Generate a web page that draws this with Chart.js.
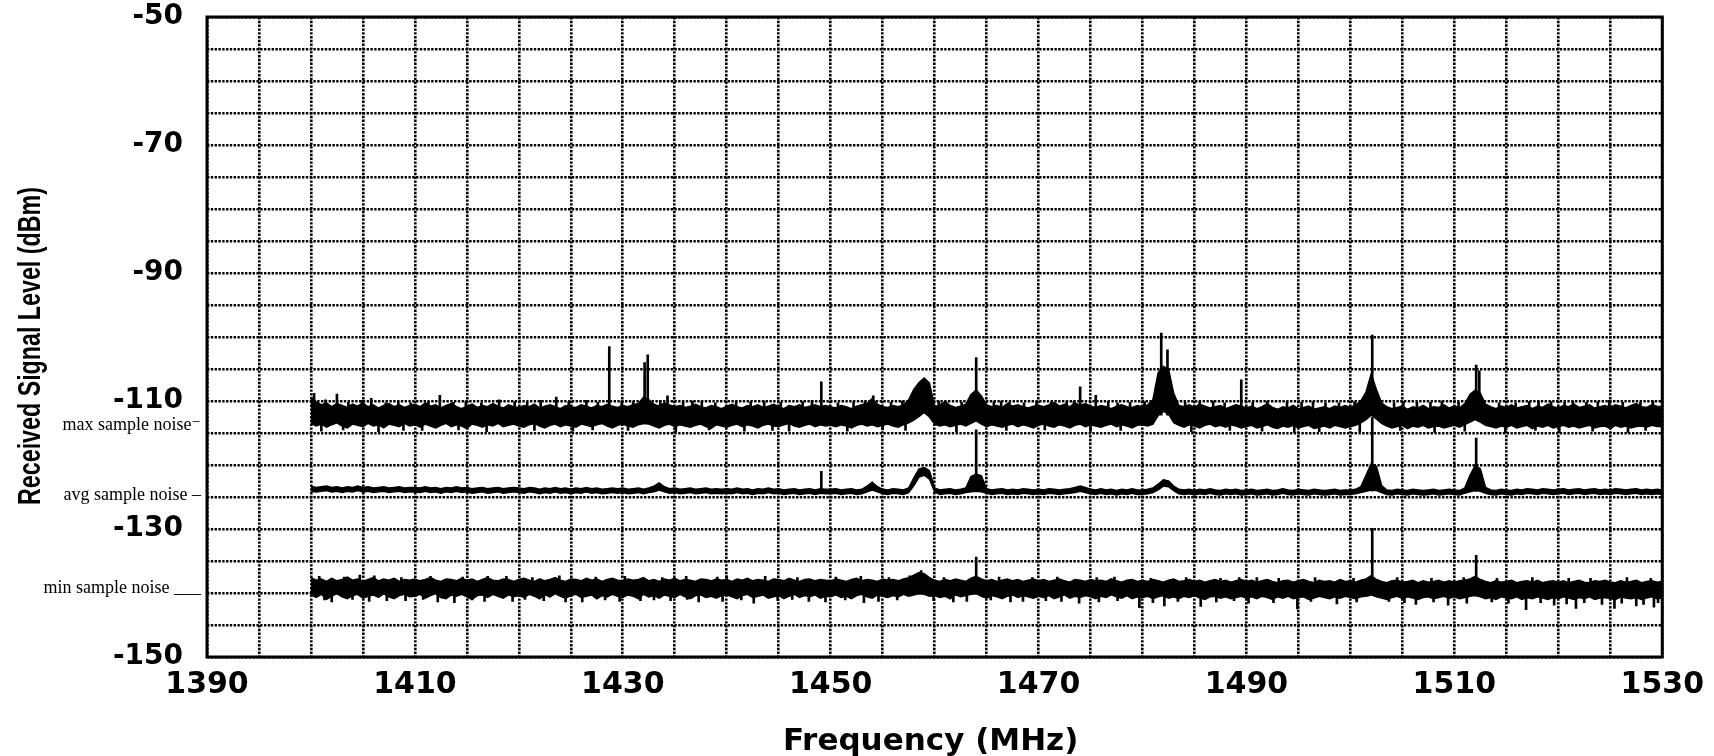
<!DOCTYPE html>
<html>
<head>
<meta charset="utf-8">
<script src="https://cdn.jsdelivr.net/npm/chart.js@4.4.1/dist/chart.umd.min.js"></script>
<style>
  html, body { margin: 0; padding: 0; background: #fff; }
  canvas { display: block; }
</style>
</head>
<body>
<canvas id="noiseChart" width="1714" height="756"></canvas>
<script>
// ====== DATA ======
// tick labels shown on the axes
const xTickLabels = [1390, 1410, 1430, 1450, 1470, 1490, 1510, 1530];
const yTickLabels = [-50, -70, -90, -110, -130, -150];
const xTitle = 'Frequency (MHz)';
const yTitle = 'Received Signal Level (dBm)';

// trace labels in the left margin and the level (dBm) they point at
const noteLabels = ['max sample noise\u207B', 'avg sample noise \u2013', 'min sample noise ___'];
const noteLevels = [-113.75, -124.7, -139.2];

// sweep: 1400 .. 1530 MHz, read every 0.5 MHz
const SWEEP_START = 1400, SWEEP_END = 1530, SWEEP_STEP = 0.5;
const freqGrid = [];
for (let f = SWEEP_START; f <= SWEEP_END + 1e-9; f += SWEEP_STEP) freqGrid.push(f);

// max sample noise: upper / lower edge of the trace band (dBm)
const maxHi = [
  -109.4,-110.1,-110.6,-110.3,-110.9,-110.4,-110.7,-111.0,-110.5,-110.8,-110.3,-110.9,-110.6,-111.1,-110.7,-110.4,-110.9,-110.6,-111.0,-110.7,
  -110.5,-110.9,-110.3,-110.8,-110.6,-111.1,-110.7,-110.4,-110.9,-111.2,-110.8,-110.5,-111.0,-110.7,-110.9,-110.4,-110.8,-111.1,-110.6,-110.9,
  -111.0,-110.7,-110.9,-110.5,-111.1,-110.8,-110.6,-110.9,-111.2,-110.7,-110.9,-111.0,-110.6,-110.8,-111.1,-110.7,-110.9,-110.5,-110.8,-111.0,
  -110.7,-110.9,-110.6,-110.4,-109.4,-109.8,-110.5,-110.8,-110.3,-110.6,-110.9,-110.7,-111.0,-110.8,-110.5,-110.9,-111.1,-110.7,-110.9,-111.2,
  -110.8,-110.5,-110.9,-111.1,-110.7,-110.9,-110.6,-111.0,-110.8,-110.5,-110.9,-111.2,-110.7,-110.9,-110.6,-111.0,-110.8,-110.6,-110.9,-110.7,
  -110.9,-111.1,-110.7,-110.9,-111.2,-110.8,-110.6,-110.4,-109.6,-110.5,-110.9,-111.0,-110.7,-110.9,-110.6,-109.8,-108.2,-107.1,-106.4,-107.2,
  -110.9,-110.6,-110.1,-110.7,-111.0,-110.8,-110.5,-109.0,-108.3,-109.2,-110.6,-110.9,-110.7,-111.0,-110.4,-110.8,-110.6,-110.9,-111.1,-110.8,
  -110.7,-110.9,-110.6,-110.2,-110.8,-110.5,-110.9,-110.3,-110.7,-110.4,-110.8,-111.0,-110.7,-110.9,-111.2,-110.8,-110.6,-110.9,-111.0,-110.7,
  -110.9,-110.6,-109.8,-105.6,-104.6,-105.0,-108.8,-110.7,-110.9,-110.6,-111.0,-110.5,-110.8,-111.1,-110.9,-110.7,-111.2,-110.9,-110.6,-110.8,
  -111.1,-110.8,-111.2,-110.9,-110.4,-111.0,-111.3,-110.9,-111.1,-110.7,-111.2,-111.0,-110.8,-111.3,-111.1,-110.9,-111.2,-110.8,-111.0,-110.7,
  -111.0,-110.6,-110.0,-108.6,-105.8,-108.2,-110.3,-110.9,-111.2,-111.0,-110.8,-111.3,-110.9,-111.1,-110.7,-111.2,-110.9,-111.0,-110.6,-111.1,
  -110.8,-111.1,-110.4,-109.0,-108.3,-108.8,-110.5,-110.9,-111.2,-110.8,-111.0,-110.6,-111.1,-110.9,-110.7,-111.2,-110.8,-111.0,-110.5,-110.9,
  -111.1,-110.7,-110.9,-110.5,-111.0,-110.8,-110.6,-111.1,-110.9,-110.7,-111.0,-110.6,-110.8,-111.1,-110.7,-110.4,-110.9,-111.0,-110.6,-110.8,
  -110.9
];
const maxLo = [
  -113.5,-113.9,-113.6,-114.1,-113.7,-113.4,-113.9,-114.2,-113.6,-113.8,-114.0,-113.5,-113.9,-113.7,-114.2,-113.6,-113.8,-114.0,-113.5,-113.9,
  -113.7,-114.1,-113.6,-113.9,-114.2,-113.8,-113.5,-114.0,-113.7,-113.9,-114.3,-113.6,-113.8,-114.1,-113.7,-113.9,-113.5,-114.0,-113.8,-113.6,
  -113.9,-114.1,-113.7,-113.5,-113.9,-114.2,-113.8,-113.6,-114.0,-113.7,-113.9,-114.1,-113.6,-113.8,-114.0,-113.7,-113.5,-113.9,-114.2,-113.8,
  -113.6,-113.9,-114.1,-113.7,-113.5,-113.6,-113.9,-114.2,-113.8,-113.6,-114.0,-113.7,-113.9,-114.1,-113.8,-113.6,-114.0,-114.3,-113.7,-113.9,
  -114.1,-113.8,-113.6,-114.0,-113.7,-113.9,-114.2,-113.8,-113.6,-113.9,-114.0,-113.7,-113.5,-113.9,-114.1,-113.8,-113.6,-114.0,-113.7,-113.9,
  -113.8,-114.0,-113.7,-113.9,-114.2,-113.8,-113.6,-113.9,-113.7,-114.0,-113.8,-113.6,-113.9,-114.1,-113.7,-113.4,-113.0,-112.4,-111.8,-112.5,
  -113.6,-113.9,-113.7,-114.0,-113.8,-113.6,-113.9,-113.5,-113.1,-113.6,-114.0,-113.7,-113.9,-114.1,-113.8,-113.6,-114.0,-113.7,-113.9,-114.2,
  -113.8,-113.6,-113.9,-114.1,-113.7,-113.9,-114.2,-113.8,-113.6,-114.0,-113.7,-113.9,-114.1,-113.8,-113.6,-114.0,-113.7,-113.9,-114.2,-113.8,
  -113.7,-113.9,-113.6,-112.3,-111.6,-112.0,-113.4,-113.8,-114.1,-113.7,-113.9,-114.2,-113.8,-113.6,-114.0,-113.8,-114.1,-113.7,-113.9,-114.2,
  -114.0,-113.8,-114.2,-114.0,-113.7,-114.1,-114.3,-113.9,-114.1,-113.8,-114.2,-114.0,-113.8,-114.3,-114.1,-113.9,-114.2,-113.8,-114.0,-114.2,
  -114.0,-113.8,-113.4,-112.9,-112.2,-112.8,-113.5,-113.9,-114.2,-114.0,-113.8,-114.3,-113.9,-114.1,-113.8,-114.2,-114.0,-113.9,-114.2,-114.0,
  -113.8,-114.1,-113.7,-113.3,-112.9,-113.3,-113.8,-114.0,-114.2,-113.9,-114.1,-113.8,-114.2,-114.0,-113.8,-114.3,-113.9,-114.1,-113.8,-114.2,
  -114.0,-113.8,-114.1,-113.9,-114.2,-114.0,-113.8,-114.2,-114.0,-113.9,-114.3,-113.8,-114.1,-113.9,-114.2,-114.0,-113.9,-114.1,-113.8,-114.0,
  -114.0
];

// avg sample noise: upper / lower edge (dBm)
const avgHi = [
  -123.3,-123.5,-123.4,-123.3,-123.5,-123.4,-123.6,-123.4,-123.5,-123.3,-123.5,-123.4,-123.6,-123.5,-123.4,-123.6,-123.5,-123.4,-123.6,-123.5,
  -123.5,-123.6,-123.4,-123.6,-123.5,-123.7,-123.5,-123.6,-123.4,-123.6,-123.5,-123.7,-123.6,-123.5,-123.7,-123.6,-123.5,-123.7,-123.6,-123.5,
  -123.6,-123.7,-123.5,-123.6,-123.8,-123.6,-123.7,-123.5,-123.7,-123.6,-123.8,-123.6,-123.7,-123.5,-123.7,-123.6,-123.8,-123.7,-123.6,-123.7,
  -123.6,-123.8,-123.7,-123.6,-123.8,-123.6,-123.3,-122.8,-123.4,-123.7,-123.6,-123.8,-123.7,-123.6,-123.8,-123.7,-123.6,-123.8,-123.7,-123.8,
  -123.7,-123.8,-123.6,-123.8,-123.7,-123.9,-123.7,-123.8,-123.6,-123.8,-123.7,-123.9,-123.8,-123.7,-123.9,-123.8,-123.7,-123.9,-123.7,-123.8,
  -123.8,-123.7,-123.9,-123.8,-123.7,-123.9,-123.8,-123.3,-122.7,-123.4,-123.8,-123.9,-123.7,-123.8,-123.9,-123.6,-122.0,-120.6,-120.4,-120.9,
  -123.6,-123.9,-123.8,-123.7,-123.9,-123.8,-123.6,-121.8,-121.4,-121.7,-123.7,-123.9,-123.8,-123.7,-123.9,-123.8,-123.9,-123.7,-123.8,-123.9,
  -123.8,-123.9,-123.7,-123.8,-123.9,-123.8,-123.7,-123.5,-123.3,-123.5,-123.8,-123.9,-123.7,-123.9,-123.8,-124.0,-123.8,-123.9,-123.7,-123.9,
  -123.9,-123.8,-123.6,-123.0,-122.3,-122.5,-123.3,-123.8,-123.9,-123.8,-124.0,-123.8,-123.9,-123.7,-123.9,-124.0,-123.8,-123.9,-123.8,-124.0,
  -123.9,-123.8,-124.0,-123.9,-123.8,-124.0,-123.9,-123.7,-123.9,-124.0,-123.8,-123.9,-124.0,-123.8,-123.9,-124.0,-123.9,-123.8,-124.0,-123.9,
  -123.9,-123.8,-123.4,-121.6,-119.8,-120.2,-123.2,-123.9,-124.0,-123.8,-123.9,-124.0,-123.8,-123.9,-124.0,-123.9,-123.8,-124.0,-123.9,-123.8,
  -123.9,-124.0,-123.6,-121.6,-120.1,-120.6,-123.5,-123.9,-124.0,-123.8,-123.9,-124.0,-123.8,-123.9,-123.7,-123.8,-123.9,-123.7,-123.8,-123.9,
  -123.8,-123.7,-123.9,-123.8,-123.7,-123.9,-123.8,-123.7,-123.9,-123.8,-123.9,-123.7,-123.8,-123.9,-123.8,-123.7,-123.9,-123.8,-123.9,-123.8,
  -123.9
];
const avgLo = [
  -124.1,-124.2,-124.1,-124.0,-124.2,-124.1,-124.3,-124.1,-124.2,-124.0,-124.2,-124.1,-124.3,-124.2,-124.1,-124.3,-124.2,-124.1,-124.3,-124.2,
  -124.2,-124.3,-124.1,-124.3,-124.2,-124.4,-124.2,-124.3,-124.1,-124.3,-124.2,-124.4,-124.3,-124.2,-124.4,-124.3,-124.2,-124.4,-124.3,-124.2,
  -124.3,-124.4,-124.2,-124.3,-124.5,-124.3,-124.4,-124.2,-124.4,-124.3,-124.5,-124.3,-124.4,-124.2,-124.4,-124.3,-124.5,-124.4,-124.3,-124.4,
  -124.3,-124.5,-124.4,-124.3,-124.5,-124.3,-124.2,-123.9,-124.2,-124.4,-124.3,-124.5,-124.4,-124.3,-124.5,-124.4,-124.3,-124.5,-124.4,-124.5,
  -124.4,-124.5,-124.3,-124.5,-124.4,-124.6,-124.4,-124.5,-124.3,-124.5,-124.4,-124.6,-124.5,-124.4,-124.6,-124.5,-124.4,-124.6,-124.4,-124.5,
  -124.5,-124.4,-124.6,-124.5,-124.4,-124.6,-124.5,-124.2,-123.9,-124.2,-124.5,-124.6,-124.4,-124.5,-124.6,-124.3,-123.2,-121.9,-121.6,-122.2,
  -124.2,-124.6,-124.5,-124.4,-124.6,-124.5,-124.3,-124.2,-124.1,-124.2,-124.4,-124.6,-124.5,-124.4,-124.6,-124.5,-124.6,-124.4,-124.5,-124.6,
  -124.5,-124.6,-124.4,-124.5,-124.6,-124.5,-124.4,-124.3,-124.1,-124.3,-124.5,-124.6,-124.4,-124.6,-124.5,-124.7,-124.5,-124.6,-124.4,-124.6,
  -124.6,-124.5,-124.3,-123.9,-123.3,-123.4,-124.0,-124.5,-124.6,-124.5,-124.7,-124.5,-124.6,-124.4,-124.6,-124.7,-124.5,-124.6,-124.5,-124.7,
  -124.6,-124.5,-124.7,-124.6,-124.5,-124.7,-124.6,-124.4,-124.6,-124.7,-124.5,-124.6,-124.7,-124.5,-124.6,-124.7,-124.6,-124.5,-124.7,-124.6,
  -124.6,-124.5,-124.3,-124.1,-123.9,-124.0,-124.3,-124.6,-124.7,-124.5,-124.6,-124.7,-124.5,-124.6,-124.7,-124.6,-124.5,-124.7,-124.6,-124.5,
  -124.6,-124.7,-124.4,-124.2,-124.0,-124.1,-124.4,-124.6,-124.7,-124.5,-124.6,-124.7,-124.5,-124.6,-124.4,-124.5,-124.6,-124.4,-124.5,-124.6,
  -124.5,-124.4,-124.6,-124.5,-124.4,-124.6,-124.5,-124.4,-124.6,-124.5,-124.6,-124.4,-124.5,-124.6,-124.5,-124.4,-124.6,-124.5,-124.6,-124.5,
  -124.6
];

// min sample noise: upper / lower edge (dBm)
const minHi = [
  -137.6,-138.0,-137.8,-138.2,-137.7,-138.1,-137.9,-137.5,-138.0,-137.8,-138.2,-137.9,-137.6,-138.1,-137.8,-138.0,-137.7,-138.2,-137.9,-138.0,
  -137.8,-138.1,-137.9,-137.6,-138.0,-138.2,-137.8,-137.9,-138.1,-137.7,-138.0,-137.8,-138.2,-137.9,-137.6,-138.0,-138.1,-137.8,-137.9,-138.2,
  -137.9,-137.7,-138.0,-138.2,-137.8,-138.1,-137.9,-137.6,-138.0,-138.2,-137.8,-137.9,-138.1,-137.7,-138.0,-137.8,-138.2,-137.9,-137.7,-138.0,
  -138.1,-137.8,-138.0,-137.9,-137.6,-138.1,-137.9,-138.2,-137.8,-138.0,-137.7,-138.1,-137.9,-138.0,-138.2,-137.8,-137.9,-138.1,-137.8,-138.0,
  -137.9,-138.2,-137.8,-138.0,-137.7,-138.1,-137.9,-138.0,-138.2,-137.8,-137.9,-138.1,-137.7,-138.0,-138.2,-137.9,-137.8,-138.1,-137.9,-138.0,
  -138.1,-137.8,-138.0,-138.2,-137.9,-137.7,-138.1,-137.9,-138.0,-138.2,-137.8,-138.0,-137.9,-138.1,-137.8,-137.6,-137.2,-136.8,-137.0,-137.6,
  -138.0,-138.2,-137.9,-138.1,-137.8,-138.0,-138.2,-137.7,-137.4,-137.8,-138.1,-137.9,-138.2,-138.0,-137.8,-138.1,-137.9,-138.2,-138.0,-137.8,
  -138.1,-137.9,-138.2,-138.0,-137.8,-138.1,-138.3,-137.9,-138.0,-138.2,-137.9,-138.1,-138.0,-138.2,-137.8,-138.1,-138.3,-138.0,-137.9,-138.2,
  -138.0,-138.2,-137.9,-138.1,-138.3,-138.0,-137.8,-138.2,-138.1,-137.9,-138.2,-138.0,-138.3,-138.1,-137.9,-138.2,-138.0,-138.3,-138.1,-137.9,
  -138.2,-138.0,-138.3,-138.1,-137.9,-138.2,-138.4,-138.1,-138.0,-138.3,-138.1,-137.9,-138.2,-138.4,-138.0,-138.2,-138.1,-138.3,-137.9,-138.2,
  -138.1,-138.3,-138.0,-137.8,-137.3,-137.9,-138.2,-138.4,-138.1,-138.0,-138.3,-138.2,-138.0,-138.4,-138.1,-138.3,-138.2,-138.0,-138.3,-138.1,
  -138.3,-138.1,-138.0,-137.8,-137.4,-137.9,-138.2,-138.4,-138.1,-138.3,-138.2,-138.0,-138.4,-138.2,-138.1,-138.3,-138.0,-138.4,-138.2,-138.1,
  -138.3,-138.1,-138.4,-138.2,-138.0,-138.3,-138.4,-138.1,-138.2,-138.0,-138.3,-138.4,-138.1,-138.3,-138.2,-138.0,-138.4,-138.2,-138.1,-138.3,
  -138.2
];
const minLo = [
  -140.3,-140.7,-140.2,-141.0,-140.5,-140.1,-140.6,-140.9,-140.4,-140.2,-140.8,-140.5,-140.3,-140.7,-140.1,-140.6,-140.9,-140.4,-140.2,-140.6,
  -140.5,-140.2,-140.8,-140.4,-140.1,-140.7,-140.9,-140.3,-140.5,-140.2,-140.6,-141.0,-140.4,-140.3,-140.7,-140.2,-140.5,-140.8,-140.3,-140.6,
  -140.4,-140.7,-140.2,-140.5,-140.9,-140.3,-140.6,-140.1,-140.5,-140.8,-140.4,-140.2,-140.7,-140.5,-140.3,-140.9,-140.4,-140.6,-140.2,-140.5,
  -140.7,-140.3,-140.5,-140.9,-140.2,-140.6,-140.4,-140.8,-140.3,-140.5,-140.7,-140.2,-140.6,-140.9,-140.4,-140.3,-140.7,-140.5,-140.8,-140.4,
  -140.3,-140.6,-140.9,-140.4,-140.2,-140.7,-140.5,-140.3,-140.8,-140.6,-140.4,-140.9,-140.5,-140.2,-140.7,-140.4,-140.6,-140.3,-140.8,-140.5,
  -140.6,-140.3,-140.7,-140.5,-140.9,-140.4,-140.2,-140.6,-140.8,-140.3,-140.5,-140.7,-140.4,-140.6,-140.2,-140.5,-140.3,-140.1,-140.2,-140.5,
  -140.4,-140.7,-140.5,-140.9,-140.3,-140.6,-140.4,-140.2,-140.1,-140.5,-140.8,-140.4,-140.6,-140.9,-140.5,-140.3,-140.7,-140.4,-140.6,-140.8,
  -140.5,-140.7,-140.4,-140.9,-140.6,-140.3,-140.8,-140.5,-140.7,-140.4,-140.6,-140.9,-140.5,-140.7,-140.3,-140.6,-140.8,-140.4,-140.9,-140.6,
  -140.7,-140.5,-140.9,-140.6,-140.4,-140.8,-140.6,-140.9,-140.5,-140.7,-140.4,-140.8,-141.0,-140.6,-140.5,-140.8,-140.6,-140.9,-140.7,-140.5,
  -140.8,-140.6,-140.9,-140.5,-140.7,-141.0,-140.6,-140.8,-140.5,-140.9,-140.7,-140.6,-141.0,-140.8,-140.5,-140.7,-140.9,-140.6,-140.8,-140.5,
  -140.7,-140.9,-140.6,-140.5,-140.3,-140.6,-140.8,-141.0,-140.7,-140.5,-140.9,-140.6,-140.8,-141.0,-140.7,-140.6,-140.9,-140.7,-140.5,-140.8,
  -140.6,-140.9,-140.7,-140.5,-140.4,-140.6,-140.9,-140.7,-141.0,-140.6,-140.8,-140.9,-140.6,-141.0,-140.7,-140.9,-140.6,-140.8,-141.0,-140.7,
  -140.9,-140.6,-140.8,-141.0,-140.7,-140.9,-140.6,-141.0,-140.8,-140.7,-140.9,-141.0,-140.6,-140.8,-140.9,-140.7,-141.0,-140.8,-140.6,-140.9,
  -140.8
];

// narrow signal spikes: frequency (MHz) and the level they reach (dBm)
const maxSpikeFreq  = [1400.3,1402.5,1405.8,1412.4,1418.1,1423.6,1426.5,1428.7,1432.1,1432.4,1434.3,1437.6,1440.9,1449.1,1454.1,1461.1,1464.0,1467.2,1472.7,1474.0,1475.5,1478.8,1481.8,1482.4,1485.5,1489.5,1493.9,1497.6,1502.1,1506.4,1512.1,1512.4,1515.9,1519.3,1522.7,1527.9];
const maxSpikeLevel = [-108.8,-108.9,-109.6,-109.1,-109.8,-109.4,-109.9,-101.5,-104.0,-102.8,-109.2,-110.0,-110.0,-107.0,-109.2,-110.1,-103.2,-110.2,-110.1,-107.8,-109.1,-110.2,-99.4,-102.0,-110.1,-106.7,-110.1,-110.3,-99.7,-110.2,-104.4,-105.3,-110.3,-110.1,-110.2,-110.2];

const avgSpikeFreq  = [1449.1, 1464.0, 1502.1, 1512.1];
const avgSpikeLevel = [-121.0, -114.5, -112.6, -115.8];

const minSpikeFreq  = [1404.7, 1458.7, 1464.0, 1479.7, 1482.1, 1494.9, 1502.1, 1512.1, 1516.9, 1521.7, 1525.4];
const minSpikeLevel = [-137.2, -136.5, -134.4, -142.3, -142.0, -142.5, -129.9, -134.1, -142.6, -142.4, -142.4];

// fine noise hairs on the band edges: frequency (MHz) and level (dBm)
const maxHairFreq = [
  1401.0,1401.4,1403.1,1403.6,1404.9,1406.5,1407.2,1408.4,1408.9,1409.6,1410.7,1411.3,1413.7,1414.2,1414.9,1416.4,1416.9,1419.6,1420.8,1421.5,
  1422.1,1424.8,1425.2,1427.1,1427.6,1429.9,1430.5,1431.0,1433.6,1435.1,1435.8,1436.7,1438.3,1438.9,1441.7,1442.3,1443.6,1444.4,1445.2,1446.0,
  1447.3,1448.2,1450.7,1451.6,1452.2,1453.3,1455.0,1455.8,1456.9,1457.2,1460.4,1462.1,1462.6,1465.7,1466.4,1466.9,1468.6,1469.8,1470.6,1471.2,
  1473.4,1475.0,1476.7,1477.6,1477.9,1480.2,1484.1,1484.7,1486.8,1487.9,1488.4,1490.6,1491.5,1492.0,1494.6,1495.3,1496.4,1497.0,1498.9,1500.4,
  1500.9,1504.2,1504.8,1505.1,1507.7,1508.1,1508.8,1510.4,1511.0,1514.3,1514.9,1517.2,1517.8,1518.1,1520.1,1520.6,1521.4,1523.3,1523.8,1524.9,
  1526.2,1526.7,1528.4,1529.1
];
const maxHairLevel = [
  -114.7,-109.8,-114.5,-110.2,-109.9,-114.8,-110.3,-110.0,-114.6,-110.3,-114.6,-110.1,-110.2,-114.5,-110.0,-110.3,-114.8,-110.1,-110.2,-114.6,
  -109.9,-110.1,-114.7,-114.5,-110.2,-110.0,-114.6,-110.1,-109.9,-114.8,-110.2,-110.0,-114.5,-110.3,-114.7,-110.1,-110.0,-114.6,-110.2,-114.7,
  -110.1,-109.9,-110.3,-114.7,-110.1,-110.0,-114.5,-110.2,-110.0,-114.6,-110.0,-114.8,-110.2,-110.1,-110.0,-114.6,-110.3,-110.1,-114.5,-110.2,
  -110.0,-114.7,-110.1,-110.3,-114.6,-110.1,-110.2,-114.8,-110.0,-110.3,-114.6,-110.2,-114.7,-110.0,-114.9,-110.2,-110.1,-114.8,-110.3,-110.1,
  -114.8,-110.3,-114.6,-110.1,-110.2,-114.9,-110.0,-110.2,-114.7,-110.3,-114.8,-110.1,-114.6,-110.0,-114.9,-110.2,-110.0,-114.7,-110.1,-109.9,
  -110.2,-114.9,-114.6,-110.0
];

const minHairFreq = [
  1400.8,1401.3,1402.0,1403.2,1404.0,1405.6,1406.1,1407.3,1408.7,1409.1,1410.8,1411.5,1412.2,1413.8,1414.6,1415.5,1416.7,1417.0,1418.8,1419.4,
  1420.6,1421.3,1422.4,1423.9,1424.5,1426.1,1427.4,1428.3,1429.7,1430.2,1431.7,1433.0,1433.8,1434.6,1436.1,1436.2,1437.3,1439.1,1439.6,1440.0,
  1441.4,1442.6,1443.7,1444.9,1446.3,1446.8,1447.9,1449.5,1450.5,1451.4,1452.9,1453.2,1454.6,1455.6,1456.4,1457.6,1459.9,1460.9,1461.8,1463.1,
  1465.4,1466.2,1467.3,1468.5,1469.4,1470.7,1471.8,1472.2,1473.9,1475.6,1475.8,1477.3,1477.6,1480.8,1481.0,1483.4,1484.2,1485.6,1487.1,1487.5,
  1488.8,1489.3,1490.2,1491.0,1492.6,1493.1,1496.2,1496.6,1498.7,1500.3,1500.6,1503.7,1504.5,1505.2,1506.3,1507.8,1508.0,1509.4,1510.9,1511.2,
  1513.6,1514.1,1515.2,1517.5,1518.3,1519.6,1520.8,1521.0,1522.5,1523.1,1524.2,1526.1,1526.6,1527.5,1528.2,1528.9,1529.2,1529.6
];
const minHairLevel = [
  -137.4,-141.1,-141.4,-137.5,-141.0,-141.3,-137.3,-141.2,-137.6,-141.2,-141.0,-137.4,-141.4,-141.5,-137.5,-141.1,-141.3,-137.4,-137.4,-141.3,
  -141.0,-137.6,-141.2,-137.3,-141.4,-141.4,-137.5,-141.1,-141.3,-137.4,-141.2,-141.1,-137.6,-141.2,-137.4,-141.0,-141.4,-137.5,-141.3,-137.3,
  -141.1,-141.6,-137.4,-141.2,-141.0,-137.6,-141.3,-141.4,-137.5,-141.1,-137.4,-141.5,-141.3,-137.6,-141.1,-137.3,-141.2,-137.6,-141.4,-141.3,
  -141.1,-137.5,-141.4,-141.3,-137.6,-141.2,-137.5,-141.3,-141.6,-137.6,-141.4,-137.5,-141.2,-137.7,-141.5,-141.3,-137.6,-142.1,-141.4,-137.7,
  -141.2,-137.6,-141.6,-137.6,-141.5,-137.7,-141.3,-137.6,-141.7,-137.7,-141.4,-141.3,-137.6,-141.5,-141.8,-137.7,-141.4,-141.9,-137.6,-141.6,
  -141.4,-137.7,-141.6,-137.6,-141.5,-141.9,-141.7,-137.7,-141.5,-137.7,-141.8,-141.6,-137.6,-142.0,-141.8,-137.7,-142.2,-141.5
];

// ====== HELPERS ======
const INK = '#000';

function band(values) {
  return values.map((v, i) => ({ x: freqGrid[i], y: v }));
}

function spikes(freqs, levels, base) {
  return freqs.map((f, i) => ({ x: f, y: [base, levels[i]] }));
}

function edge(values, fillNext) {
  return {
    type: 'line',
    data: band(values),
    borderColor: INK,
    borderWidth: 1.5,
    backgroundColor: INK,
    pointRadius: 0,
    tension: 0,
    fill: fillNext ? '+1' : false
  };
}

function spikeSet(freqs, levels, base, thickness) {
  return {
    type: 'bar',
    data: spikes(freqs, levels, base),
    backgroundColor: INK,
    borderWidth: 0,
    barThickness: thickness,
    grouped: false
  };
}

// frame round the plot, axis titles and the trace labels in the left margin
const framePlugin = {
  id: 'frame',
  afterDraw(chart) {
    const { ctx, chartArea: a, scales } = chart;
    ctx.save();
    ctx.strokeStyle = INK;
    ctx.lineWidth = 3;
    ctx.strokeRect(a.left, a.top, a.right - a.left, a.bottom - a.top);

    ctx.fillStyle = INK;
    ctx.textBaseline = 'middle';

    // trace labels
    ctx.font = '18px "Liberation Serif", "DejaVu Serif", serif';
    ctx.textAlign = 'right';
    noteLabels.forEach((txt, i) => {
      ctx.fillText(txt, a.left - 6, scales.y.getPixelForValue(noteLevels[i]));
    });

    // x title
    ctx.textAlign = 'center';
    ctx.font = 'bold 31px "DejaVu Sans", sans-serif';
    ctx.fillText(xTitle, (a.left + a.right) / 2 - 4, 742);

    // y title (narrow, rotated)
    ctx.translate(31, (a.top + a.bottom) / 2 + 9);
    ctx.rotate(-Math.PI / 2);
    ctx.scale(0.75, 1);
    ctx.font = 'bold 31px "Liberation Sans", Arial, sans-serif';
    ctx.fillText(yTitle, 0, 0);
    ctx.restore();
  }
};

// ====== CHART ======
const ctx = document.getElementById('noiseChart').getContext('2d');

new Chart(ctx, {
  type: 'line',
  data: {
    datasets: [
      edge(maxHi, true), edge(maxLo, false),
      edge(avgHi, true), edge(avgLo, false),
      edge(minHi, true), edge(minLo, false),
      spikeSet(maxSpikeFreq, maxSpikeLevel, -112.2, 2),
      spikeSet(avgSpikeFreq, avgSpikeLevel, -124.1, 2),
      spikeSet(minSpikeFreq, minSpikeLevel, -139.2, 2),
      spikeSet(maxHairFreq, maxHairLevel, -112.2, 2),
      spikeSet(minHairFreq, minHairLevel, -139.2, 2)
    ]
  },
  options: {
    responsive: false,
    animation: false,
    layout: { padding: { left: 0, right: 48, top: 17, bottom: 0 } },
    plugins: { legend: { display: false }, tooltip: { enabled: false } },
    scales: {
      x: {
        type: 'linear',
        min: 1390,
        max: 1530,
        offset: false,
        afterFit: (scale) => { scale.height = 99; },
        grid: { color: INK, lineWidth: 2.6, drawTicks: false, offset: false },
        border: { display: false, dash: [2.4, 1.4] },
        ticks: {
          stepSize: 5,
          autoSkip: false,
          maxRotation: 0,
          padding: 10,
          color: INK,
          font: { family: '"DejaVu Sans", sans-serif', size: 30, weight: 'bold' },
          callback: (v) => xTickLabels.includes(v) ? String(v) : ''
        }
      },
      y: {
        type: 'linear',
        min: -150,
        max: -50,
        afterFit: (scale) => {
          scale.width = 207;
          scale.paddingTop = 0;
          scale.paddingBottom = 0;
        },
        grid: { color: INK, lineWidth: 2.6, drawTicks: false },
        border: { display: false, dash: [2.4, 1.4] },
        ticks: {
          stepSize: 5,
          autoSkip: false,
          padding: 24,
          color: INK,
          font: { family: '"DejaVu Sans", sans-serif', size: 28, weight: 'bold' },
          callback: (v) => yTickLabels.includes(v) ? String(v) : ''
        }
      }
    }
  },
  plugins: [framePlugin]
});
</script>
</body>
</html>
